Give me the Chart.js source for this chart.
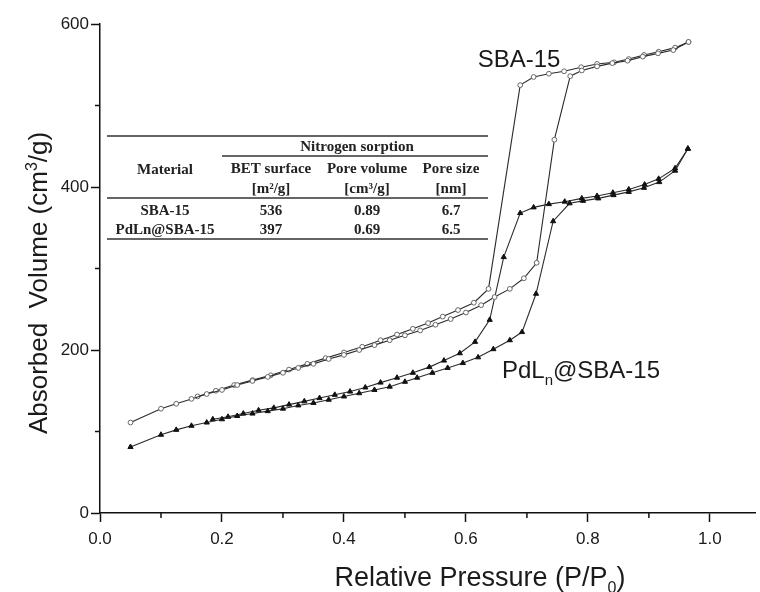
<!DOCTYPE html>
<html lang="en">
<head>
    <meta charset="UTF-8">
    <title>N2 sorption isotherms</title>
    <script src="https://cdn.jsdelivr.net/npm/chart.js"></script>
    <style>
        body { margin: 0; background: #fff; }
        canvas { display: block; }
    </style>
</head>
<body>
    <canvas id="isoChart" width="760" height="592"></canvas>

    <script>
        // SBA-15 (open circles)
        const sbaAdsP = [0.05, 0.10, 0.125, 0.15, 0.175, 0.20, 0.225, 0.25, 0.275, 0.30, 0.325, 0.35, 0.375, 0.40, 0.425, 0.45, 0.475, 0.50, 0.525, 0.55, 0.575, 0.60, 0.625, 0.647, 0.672, 0.695, 0.716, 0.745, 0.771, 0.79, 0.815, 0.84, 0.865, 0.89, 0.915, 0.94, 0.965];
        const sbaAdsV = [111, 128, 134, 140, 146, 151, 157, 162, 167, 172, 178, 183, 189, 194, 200, 206, 212, 218, 224, 231, 238, 246, 255, 265, 275, 288, 307, 458, 536, 543, 548, 552, 555, 560, 564, 568, 578];
        const sbaDesP = [0.965, 0.943, 0.916, 0.892, 0.867, 0.843, 0.815, 0.789, 0.761, 0.736, 0.711, 0.689, 0.637, 0.613, 0.587, 0.562, 0.538, 0.513, 0.487, 0.46, 0.43, 0.40, 0.37, 0.34, 0.31, 0.28, 0.25, 0.22, 0.19, 0.16];
        const sbaDesV = [578, 571, 566, 562, 557, 553, 551, 547, 542, 539, 535, 525, 275, 258, 249, 241, 233, 226, 219, 212, 204, 197, 190, 183, 176, 169, 163, 157, 150, 143];

        // PdLn@SBA-15 (filled triangles)
        const pdAdsP = [0.05, 0.10, 0.125, 0.15, 0.175, 0.20, 0.225, 0.25, 0.275, 0.30, 0.325, 0.35, 0.375, 0.40, 0.425, 0.45, 0.475, 0.50, 0.52, 0.545, 0.57, 0.595, 0.62, 0.645, 0.672, 0.692, 0.715, 0.743, 0.77, 0.792, 0.817, 0.842, 0.867, 0.892, 0.917, 0.943, 0.964];
        const pdAdsV = [81, 96, 102, 107, 111, 115, 119, 122, 125, 128, 132, 135, 139, 143, 147, 151, 155, 161, 166, 172, 178, 184, 191, 201, 212, 222, 269, 358, 380, 383, 386, 390, 394, 399, 406, 420, 447];
        const pdDesP = [0.964, 0.943, 0.916, 0.893, 0.867, 0.841, 0.815, 0.79, 0.762, 0.736, 0.711, 0.689, 0.662, 0.639, 0.615, 0.59, 0.564, 0.54, 0.513, 0.487, 0.46, 0.435, 0.41, 0.385, 0.36, 0.335, 0.31, 0.285, 0.26, 0.235, 0.21, 0.185];
        const pdDesV = [447, 423, 410, 403, 397, 393, 389, 386, 382, 379, 375, 368, 314, 237, 210, 196, 187, 179, 172, 166, 160, 154, 149, 145, 141, 137, 133, 129, 126, 122, 118, 115];

        // axes
        const xMajor = [0, 0.2, 0.4, 0.6, 0.8, 1.0];
        const xMinor = [0.1, 0.3, 0.5, 0.7, 0.9];
        const yMajor = [0, 200, 400, 600];
        const yMinor = [100, 300, 500];

        // inset table
        const tableGroup = 'Nitrogen sorption';
        const tableHead = ['Material', 'BET surface', 'Pore volume', 'Pore size'];
        const tableUnits = ['', '[m²/g]', '[cm³/g]', '[nm]'];
        const tableMaterials = ['SBA-15', 'PdLn@SBA-15'];
        const tableBET = ['536', '397'];
        const tablePoreVol = ['0.89', '0.69'];
        const tablePoreSize = ['6.7', '6.5'];

        const toPoints = (xs, ys) => xs.map((x, i) => ({ x: x, y: ys[i] }));
        const sansFont = '"Liberation Sans", Arial, sans-serif';
        const serifFont = '"Liberation Serif", "Times New Roman", serif';

        // draw a string made of pieces (for sub/superscripts), centred on x
        function drawRich(ctx, parts, x, y) {
            let total = 0;
            parts.forEach(p => {
                ctx.font = p.size + 'px ' + sansFont;
                p.w = ctx.measureText(p.t).width;
                total += p.w;
            });
            let cx = x - total / 2;
            parts.forEach(p => {
                ctx.font = p.size + 'px ' + sansFont;
                ctx.fillText(p.t, cx, y + (p.dy || 0));
                cx += p.w;
            });
        }

        const extras = {
            id: 'extras',
            afterDraw(chart) {
                const ctx = chart.ctx;
                const xs = chart.scales.x, ys = chart.scales.y;
                ctx.save();

                // minor ticks
                ctx.strokeStyle = '#111';
                ctx.lineWidth = 1.5;
                ctx.beginPath();
                xMinor.forEach(v => {
                    const px = xs.getPixelForValue(v);
                    ctx.moveTo(px, ys.bottom);
                    ctx.lineTo(px, ys.bottom + 5);
                });
                yMinor.forEach(v => {
                    const py = ys.getPixelForValue(v);
                    ctx.moveTo(xs.left, py);
                    ctx.lineTo(xs.left - 5, py);
                });
                ctx.stroke();

                // axis titles
                ctx.fillStyle = '#1a1a1a';
                ctx.textAlign = 'left';
                ctx.textBaseline = 'alphabetic';
                drawRich(ctx, [
                    { t: 'Relative Pressure (P/P', size: 27 },
                    { t: '0', size: 16, dy: 7 },
                    { t: ')', size: 27 }
                ], 480, 586);

                ctx.save();
                ctx.translate(47, 283);
                ctx.rotate(-Math.PI / 2);
                drawRich(ctx, [
                    { t: 'Absorbed  Volume (cm', size: 26 },
                    { t: '3', size: 16, dy: -10 },
                    { t: '/g)', size: 26 }
                ], 0, 0);
                ctx.restore();

                // series labels
                drawRich(ctx, [{ t: 'SBA-15', size: 24 }], 519, 67);
                drawRich(ctx, [
                    { t: 'PdL', size: 24 },
                    { t: 'n', size: 15, dy: 7 },
                    { t: '@SBA-15', size: 24 }
                ], 581, 378);

                // inset table
                const tl = 107, tr = 488;
                const cols = [165, 271, 367, 451];
                ctx.strokeStyle = '#333';
                ctx.lineWidth = 1.3;
                ctx.beginPath();
                ctx.moveTo(tl, 136); ctx.lineTo(tr, 136);
                ctx.moveTo(222, 156); ctx.lineTo(tr, 156);
                ctx.moveTo(tl, 198); ctx.lineTo(tr, 198);
                ctx.moveTo(tl, 239); ctx.lineTo(tr, 239);
                ctx.stroke();

                ctx.fillStyle = '#222';
                ctx.textAlign = 'center';
                ctx.textBaseline = 'middle';
                ctx.font = 'bold 15px ' + serifFont;
                ctx.fillText(tableGroup, 357, 147);
                ctx.fillText(tableHead[0], cols[0], 170);
                for (let i = 1; i < 4; i++) {
                    ctx.fillText(tableHead[i], cols[i], 169);
                    ctx.fillText(tableUnits[i], cols[i], 189);
                }
                const rows = [211, 230];
                tableMaterials.forEach((m, i) => {
                    ctx.fillText(m, cols[0], rows[i]);
                    ctx.fillText(tableBET[i], cols[1], rows[i]);
                    ctx.fillText(tablePoreVol[i], cols[2], rows[i]);
                    ctx.fillText(tablePoreSize[i], cols[3], rows[i]);
                });
                ctx.restore();
            }
        };

        const lineCol = '#2b2b2b';
        const circleStyle = {
            borderColor: lineCol, borderWidth: 1.1,
            pointStyle: 'circle', pointRadius: 2.4,
            pointBackgroundColor: '#fff', pointBorderColor: '#666', pointBorderWidth: 1,
            showLine: true, fill: false, tension: 0
        };
        const triStyle = {
            borderColor: lineCol, borderWidth: 1.1,
            pointStyle: 'triangle', pointRadius: 3,
            pointBackgroundColor: '#111', pointBorderColor: '#111', pointBorderWidth: 1,
            showLine: true, fill: false, tension: 0
        };

        const ctx = document.getElementById('isoChart').getContext('2d');
        const isoChart = new Chart(ctx, {
            type: 'line',
            data: {
                datasets: [
                    Object.assign({ label: 'SBA-15 adsorption', data: toPoints(sbaAdsP, sbaAdsV) }, circleStyle),
                    Object.assign({ label: 'SBA-15 desorption', data: toPoints(sbaDesP, sbaDesV) }, circleStyle),
                    Object.assign({ label: 'PdLn@SBA-15 adsorption', data: toPoints(pdAdsP, pdAdsV) }, triStyle),
                    Object.assign({ label: 'PdLn@SBA-15 desorption', data: toPoints(pdDesP, pdDesV) }, triStyle)
                ]
            },
            options: {
                responsive: false,
                animation: false,
                layout: { padding: { top: 24, right: 0, left: 0, bottom: 0 } },
                plugins: { legend: { display: false }, tooltip: { enabled: false } },
                scales: {
                    x: {
                        type: 'linear',
                        min: 0,
                        max: 1.074,
                        border: { display: true, color: '#111', width: 1.5 },
                        grid: { drawOnChartArea: false, drawTicks: true, tickLength: 9, tickColor: '#111', tickWidth: 1.5 },
                        ticks: {
                            color: '#1a1a1a',
                            font: { family: sansFont, size: 17 },
                            padding: 7,
                            maxRotation: 0,
                            callback: v => v.toFixed(1)
                        },
                        afterBuildTicks: axis => { axis.ticks = xMajor.map(v => ({ value: v })); },
                        afterFit: axis => { axis.height = 79; }
                    },
                    y: {
                        min: 0,
                        max: 600,
                        border: { display: true, color: '#111', width: 1.5 },
                        grid: { drawOnChartArea: false, drawTicks: true, tickLength: 9, tickColor: '#111', tickWidth: 1.5 },
                        ticks: {
                            color: '#1a1a1a',
                            font: { family: sansFont, size: 17 },
                            padding: 2
                        },
                        afterBuildTicks: axis => { axis.ticks = yMajor.map(v => ({ value: v })); },
                        afterFit: axis => { axis.width = 100; }
                    }
                }
            },
            plugins: [extras]
        });
    </script>
</body>
</html>
